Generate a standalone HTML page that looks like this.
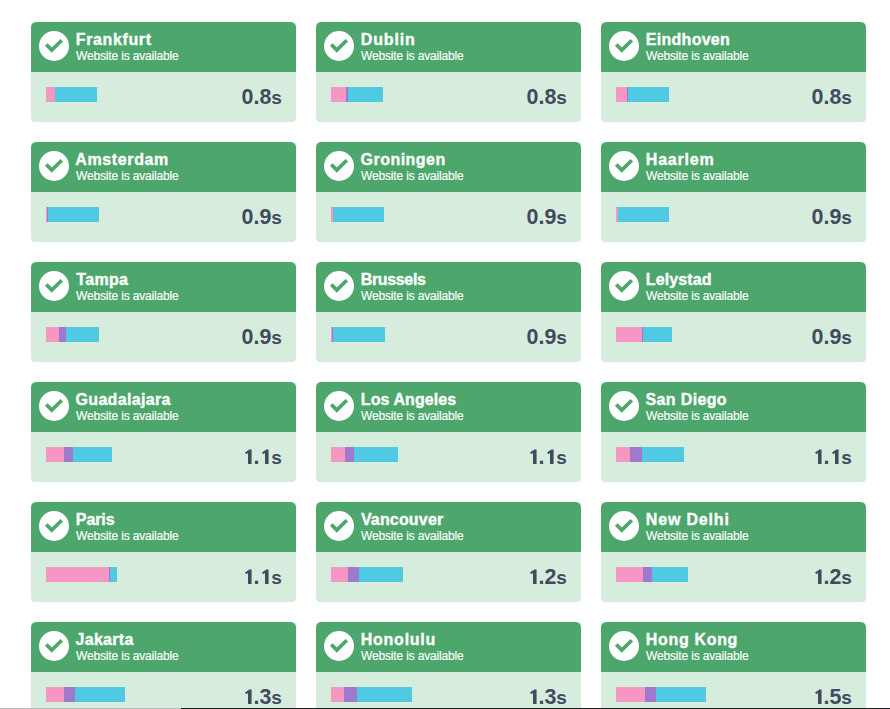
<!DOCTYPE html><html><head><meta charset="utf-8"><title>Checkpoints</title><style>
html,body{margin:0;padding:0;background:#fff;}
body{width:890px;height:709px;overflow:hidden;position:relative;font-family:"Liberation Sans",sans-serif;}
.c{position:absolute;width:265px;height:100px;border-radius:4px;overflow:hidden;background:#d6eddd;}
.h{position:absolute;left:0;top:0;width:265px;height:50px;background:#4da66b;border-radius:5.5px 5.5px 0 0;}
.ic{position:absolute;left:8px;top:9px;width:30px;height:30px;}
.t{position:absolute;left:45.5px;top:8px;font-size:16px;line-height:20px;font-weight:bold;color:#fff;white-space:nowrap;letter-spacing:0.4px;-webkit-text-stroke:0.35px #fff;}
.s{position:absolute;left:45px;top:26px;font-size:12px;line-height:16px;color:#fff;white-space:nowrap;letter-spacing:-0.16px;-webkit-text-stroke:0.15px #fff;}
.b{position:absolute;left:15px;top:65px;height:15px;display:flex;}
.b i{display:block;height:15px;}
.p{background:#f696c3}.u{background:#9e79cc}.l{background:#50c9e2}
.v{position:absolute;right:14.3px;top:62px;font-size:21.4px;line-height:24px;font-weight:bold;color:#414b5d;white-space:nowrap;transform:translateY(0.6px);}
.v b{font-size:19px;letter-spacing:-0.2px;}
.v svg{overflow:visible;display:inline-block;width:11.9px;height:15px;vertical-align:baseline;}
.bl{position:absolute;left:0;top:708px;height:1px;}
</style></head><body>
<div class="c" style="left:31px;top:22px"><div class="h"></div><svg class="ic" viewBox="0 0 30 30"><circle cx="15" cy="15" r="15" fill="#fff"/><path d="M7.27 13.48L12.77 19.15L22.78 9.24" fill="none" stroke="#4da66b" stroke-width="3.7"/></svg><div class="t" style="left:44.8px;letter-spacing:0.62px">Frankfurt</div><div class="s">Website is available</div><div class="b"><i class="p" style="width:9px"></i><i class="l" style="width:42px"></i></div><div class="v">0.8<b>s</b></div></div>
<div class="c" style="left:316px;top:22px"><div class="h"></div><svg class="ic" viewBox="0 0 30 30"><circle cx="15" cy="15" r="15" fill="#fff"/><path d="M7.27 13.48L12.77 19.15L22.78 9.24" fill="none" stroke="#4da66b" stroke-width="3.7"/></svg><div class="t" style="left:44.8px;letter-spacing:0.84px">Dublin</div><div class="s">Website is available</div><div class="b"><i class="p" style="width:15px"></i><i class="u" style="width:2px"></i><i class="l" style="width:35px"></i></div><div class="v">0.8<b>s</b></div></div>
<div class="c" style="left:601px;top:22px"><div class="h"></div><svg class="ic" viewBox="0 0 30 30"><circle cx="15" cy="15" r="15" fill="#fff"/><path d="M7.27 13.48L12.77 19.15L22.78 9.24" fill="none" stroke="#4da66b" stroke-width="3.7"/></svg><div class="t" style="left:44.8px;letter-spacing:0.28px">Eindhoven</div><div class="s">Website is available</div><div class="b"><i class="p" style="width:11px"></i><i class="u" style="width:1px"></i><i class="l" style="width:41px"></i></div><div class="v">0.8<b>s</b></div></div>
<div class="c" style="left:31px;top:142px"><div class="h"></div><svg class="ic" viewBox="0 0 30 30"><circle cx="15" cy="15" r="15" fill="#fff"/><path d="M7.27 13.48L12.77 19.15L22.78 9.24" fill="none" stroke="#4da66b" stroke-width="3.7"/></svg><div class="t" style="left:44.2px;letter-spacing:0.64px">Amsterdam</div><div class="s">Website is available</div><div class="b"><i class="p" style="width:0.8px"></i><i class="u" style="width:1.2px"></i><i class="l" style="width:51px"></i></div><div class="v">0.9<b>s</b></div></div>
<div class="c" style="left:316px;top:142px"><div class="h"></div><svg class="ic" viewBox="0 0 30 30"><circle cx="15" cy="15" r="15" fill="#fff"/><path d="M7.27 13.48L12.77 19.15L22.78 9.24" fill="none" stroke="#4da66b" stroke-width="3.7"/></svg><div class="t" style="left:44.54px;letter-spacing:0.48px">Groningen</div><div class="s">Website is available</div><div class="b"><i class="p" style="width:2px"></i><i class="l" style="width:51px"></i></div><div class="v">0.9<b>s</b></div></div>
<div class="c" style="left:601px;top:142px"><div class="h"></div><svg class="ic" viewBox="0 0 30 30"><circle cx="15" cy="15" r="15" fill="#fff"/><path d="M7.27 13.48L12.77 19.15L22.78 9.24" fill="none" stroke="#4da66b" stroke-width="3.7"/></svg><div class="t" style="left:44.8px;letter-spacing:0.78px">Haarlem</div><div class="s">Website is available</div><div class="b"><i class="p" style="width:2px"></i><i class="l" style="width:51px"></i></div><div class="v">0.9<b>s</b></div></div>
<div class="c" style="left:31px;top:262px"><div class="h"></div><svg class="ic" viewBox="0 0 30 30"><circle cx="15" cy="15" r="15" fill="#fff"/><path d="M7.27 13.48L12.77 19.15L22.78 9.24" fill="none" stroke="#4da66b" stroke-width="3.7"/></svg><div class="t" style="left:45.35px;letter-spacing:0.3px">Tampa</div><div class="s">Website is available</div><div class="b"><i class="p" style="width:13px"></i><i class="u" style="width:7px"></i><i class="l" style="width:33px"></i></div><div class="v">0.9<b>s</b></div></div>
<div class="c" style="left:316px;top:262px"><div class="h"></div><svg class="ic" viewBox="0 0 30 30"><circle cx="15" cy="15" r="15" fill="#fff"/><path d="M7.27 13.48L12.77 19.15L22.78 9.24" fill="none" stroke="#4da66b" stroke-width="3.7"/></svg><div class="t" style="left:44.8px;letter-spacing:-0.36px">Brussels</div><div class="s">Website is available</div><div class="b"><i class="p" style="width:0.8px"></i><i class="u" style="width:1.2px"></i><i class="l" style="width:52px"></i></div><div class="v">0.9<b>s</b></div></div>
<div class="c" style="left:601px;top:262px"><div class="h"></div><svg class="ic" viewBox="0 0 30 30"><circle cx="15" cy="15" r="15" fill="#fff"/><path d="M7.27 13.48L12.77 19.15L22.78 9.24" fill="none" stroke="#4da66b" stroke-width="3.7"/></svg><div class="t" style="left:44.8px;letter-spacing:0.13px">Lelystad</div><div class="s">Website is available</div><div class="b"><i class="p" style="width:26px"></i><i class="u" style="width:1px"></i><i class="l" style="width:29px"></i></div><div class="v">0.9<b>s</b></div></div>
<div class="c" style="left:31px;top:382px"><div class="h"></div><svg class="ic" viewBox="0 0 30 30"><circle cx="15" cy="15" r="15" fill="#fff"/><path d="M7.27 13.48L12.77 19.15L22.78 9.24" fill="none" stroke="#4da66b" stroke-width="3.7"/></svg><div class="t" style="left:44.54px;letter-spacing:0.32px">Guadalajara</div><div class="s">Website is available</div><div class="b"><i class="p" style="width:18px"></i><i class="u" style="width:9px"></i><i class="l" style="width:39px"></i></div><div class="v"><svg viewBox="0 0 11.9 15"><path d="M9.6 15.5V0.8H7.4L3.0 3.8L4.3 5.7L6.0 4.3V15.5Z" fill="#414b5d"/></svg>.<svg viewBox="0 0 11.9 15"><path d="M9.6 15.5V0.8H7.4L3.0 3.8L4.3 5.7L6.0 4.3V15.5Z" fill="#414b5d"/></svg><b>s</b></div></div>
<div class="c" style="left:316px;top:382px"><div class="h"></div><svg class="ic" viewBox="0 0 30 30"><circle cx="15" cy="15" r="15" fill="#fff"/><path d="M7.27 13.48L12.77 19.15L22.78 9.24" fill="none" stroke="#4da66b" stroke-width="3.7"/></svg><div class="t" style="left:44.8px;letter-spacing:0.08px">Los Angeles</div><div class="s">Website is available</div><div class="b"><i class="p" style="width:14px"></i><i class="u" style="width:9px"></i><i class="l" style="width:44px"></i></div><div class="v"><svg viewBox="0 0 11.9 15"><path d="M9.6 15.5V0.8H7.4L3.0 3.8L4.3 5.7L6.0 4.3V15.5Z" fill="#414b5d"/></svg>.<svg viewBox="0 0 11.9 15"><path d="M9.6 15.5V0.8H7.4L3.0 3.8L4.3 5.7L6.0 4.3V15.5Z" fill="#414b5d"/></svg><b>s</b></div></div>
<div class="c" style="left:601px;top:382px"><div class="h"></div><svg class="ic" viewBox="0 0 30 30"><circle cx="15" cy="15" r="15" fill="#fff"/><path d="M7.27 13.48L12.77 19.15L22.78 9.24" fill="none" stroke="#4da66b" stroke-width="3.7"/></svg><div class="t" style="left:44.51px;letter-spacing:0.36px">San Diego</div><div class="s">Website is available</div><div class="b"><i class="p" style="width:14px"></i><i class="u" style="width:12px"></i><i class="l" style="width:42px"></i></div><div class="v"><svg viewBox="0 0 11.9 15"><path d="M9.6 15.5V0.8H7.4L3.0 3.8L4.3 5.7L6.0 4.3V15.5Z" fill="#414b5d"/></svg>.<svg viewBox="0 0 11.9 15"><path d="M9.6 15.5V0.8H7.4L3.0 3.8L4.3 5.7L6.0 4.3V15.5Z" fill="#414b5d"/></svg><b>s</b></div></div>
<div class="c" style="left:31px;top:502px"><div class="h"></div><svg class="ic" viewBox="0 0 30 30"><circle cx="15" cy="15" r="15" fill="#fff"/><path d="M7.27 13.48L12.77 19.15L22.78 9.24" fill="none" stroke="#4da66b" stroke-width="3.7"/></svg><div class="t" style="left:44.8px;letter-spacing:-0.09px">Paris</div><div class="s">Website is available</div><div class="b"><i class="p" style="width:63px"></i><i class="u" style="width:1px"></i><i class="l" style="width:7px"></i></div><div class="v"><svg viewBox="0 0 11.9 15"><path d="M9.6 15.5V0.8H7.4L3.0 3.8L4.3 5.7L6.0 4.3V15.5Z" fill="#414b5d"/></svg>.<svg viewBox="0 0 11.9 15"><path d="M9.6 15.5V0.8H7.4L3.0 3.8L4.3 5.7L6.0 4.3V15.5Z" fill="#414b5d"/></svg><b>s</b></div></div>
<div class="c" style="left:316px;top:502px"><div class="h"></div><svg class="ic" viewBox="0 0 30 30"><circle cx="15" cy="15" r="15" fill="#fff"/><path d="M7.27 13.48L12.77 19.15L22.78 9.24" fill="none" stroke="#4da66b" stroke-width="3.7"/></svg><div class="t" style="left:44.9px;letter-spacing:0.17px">Vancouver</div><div class="s">Website is available</div><div class="b"><i class="p" style="width:17px"></i><i class="u" style="width:11px"></i><i class="l" style="width:44px"></i></div><div class="v"><svg viewBox="0 0 11.9 15"><path d="M9.6 15.5V0.8H7.4L3.0 3.8L4.3 5.7L6.0 4.3V15.5Z" fill="#414b5d"/></svg>.2<b>s</b></div></div>
<div class="c" style="left:601px;top:502px"><div class="h"></div><svg class="ic" viewBox="0 0 30 30"><circle cx="15" cy="15" r="15" fill="#fff"/><path d="M7.27 13.48L12.77 19.15L22.78 9.24" fill="none" stroke="#4da66b" stroke-width="3.7"/></svg><div class="t" style="left:44.8px;letter-spacing:0.83px">New Delhi</div><div class="s">Website is available</div><div class="b"><i class="p" style="width:27px"></i><i class="u" style="width:9px"></i><i class="l" style="width:36px"></i></div><div class="v"><svg viewBox="0 0 11.9 15"><path d="M9.6 15.5V0.8H7.4L3.0 3.8L4.3 5.7L6.0 4.3V15.5Z" fill="#414b5d"/></svg>.2<b>s</b></div></div>
<div class="c" style="left:31px;top:622px"><div class="h"></div><svg class="ic" viewBox="0 0 30 30"><circle cx="15" cy="15" r="15" fill="#fff"/><path d="M7.27 13.48L12.77 19.15L22.78 9.24" fill="none" stroke="#4da66b" stroke-width="3.7"/></svg><div class="t" style="left:44.56px;letter-spacing:0.29px">Jakarta</div><div class="s">Website is available</div><div class="b"><i class="p" style="width:18px"></i><i class="u" style="width:11px"></i><i class="l" style="width:50px"></i></div><div class="v"><svg viewBox="0 0 11.9 15"><path d="M9.6 15.5V0.8H7.4L3.0 3.8L4.3 5.7L6.0 4.3V15.5Z" fill="#414b5d"/></svg>.3<b>s</b></div></div>
<div class="c" style="left:316px;top:622px"><div class="h"></div><svg class="ic" viewBox="0 0 30 30"><circle cx="15" cy="15" r="15" fill="#fff"/><path d="M7.27 13.48L12.77 19.15L22.78 9.24" fill="none" stroke="#4da66b" stroke-width="3.7"/></svg><div class="t" style="left:44.8px;letter-spacing:0.74px">Honolulu</div><div class="s">Website is available</div><div class="b"><i class="p" style="width:13px"></i><i class="u" style="width:13px"></i><i class="l" style="width:55px"></i></div><div class="v"><svg viewBox="0 0 11.9 15"><path d="M9.6 15.5V0.8H7.4L3.0 3.8L4.3 5.7L6.0 4.3V15.5Z" fill="#414b5d"/></svg>.3<b>s</b></div></div>
<div class="c" style="left:601px;top:622px"><div class="h"></div><svg class="ic" viewBox="0 0 30 30"><circle cx="15" cy="15" r="15" fill="#fff"/><path d="M7.27 13.48L12.77 19.15L22.78 9.24" fill="none" stroke="#4da66b" stroke-width="3.7"/></svg><div class="t" style="left:44.8px;letter-spacing:0.67px">Hong Kong</div><div class="s">Website is available</div><div class="b"><i class="p" style="width:29px"></i><i class="u" style="width:11px"></i><i class="l" style="width:50px"></i></div><div class="v"><svg viewBox="0 0 11.9 15"><path d="M9.6 15.5V0.8H7.4L3.0 3.8L4.3 5.7L6.0 4.3V15.5Z" fill="#414b5d"/></svg>.5<b>s</b></div></div>
<div class="bl" style="width:181px;background:#bcbcbc"></div><div class="bl" style="left:181px;width:709px;background:#1c1c24"></div>
</body></html>
